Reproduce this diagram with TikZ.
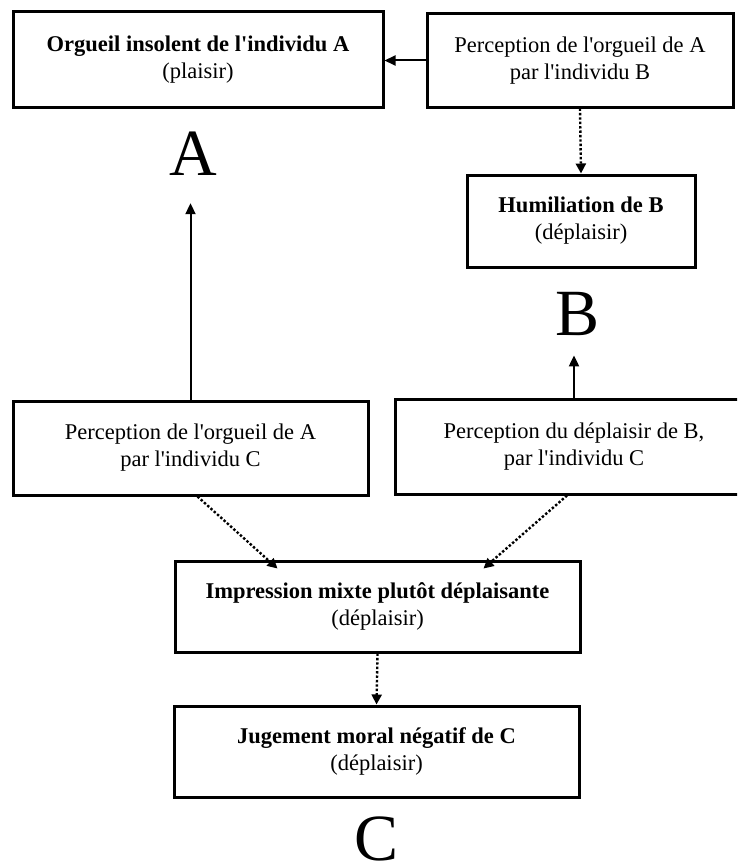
\documentclass[tikz,border=0pt]{standalone}
\usepackage{fontspec}
\setmainfont{Liberation Serif}[Ligatures=TeXOff]
\usetikzlibrary{arrows.meta}
\begin{document}
\begin{tikzpicture}[x=1pt,y=-1pt,
  box/.style={draw,line width=3pt,rectangle,inner sep=0pt,align=center,
    font=\fontsize{22.5}{27}\selectfont},
  bigletter/.style={inner sep=0pt,anchor=base,font=\fontsize{66}{66}\selectfont},
  solidarr/.style={line width=2pt,-{Triangle[length=11pt,width=10pt]}},
  dotarr/.style={line width=2.4pt,dotted,-{Triangle[length=10pt,width=10pt]}}]
\clip (0,0) rectangle (737,867);
% emotion boxes
\node[box,minimum width=370pt,minimum height=95pt] (orgueil) at (198,59.5)
  {\textbf{Orgueil insolent de l'individu A}\\(plaisir)};
\node[box,minimum width=306pt,minimum height=93pt] (percB) at (580,60.5)
  {Perception de l'orgueil de A\\par l'individu B};
\node[box,minimum width=228pt,minimum height=92pt] (humil) at (581,221)
  {\textbf{Humiliation de B}\\(déplaisir)};
\node[box,minimum width=355pt,minimum height=94pt] (percCA) at (190.5,448)
  {Perception de l'orgueil de A\\par l'individu C};
\node[box,minimum width=358pt,minimum height=95pt] (percCB) at (574,446.5)
  {Perception du déplaisir de B,\\par l'individu C};
\node[box,minimum width=405pt,minimum height=91pt] (mixte) at (377.5,606.5)
  {\textbf{Impression mixte plutôt déplaisante}\\(déplaisir)};
\node[box,minimum width=405pt,minimum height=91pt] (jugement) at (376.5,751.5)
  {\textbf{Jugement moral négatif de C}\\(déplaisir)};
% individual labels
\node[bigletter] (lettA) at (193,175) {A};
\node[bigletter] (lettB) at (578,335) {B};
\node[bigletter] (lettC) at (377,860) {C};
% connectors
\draw[solidarr] (percB.west) -- (percB.west -| orgueil.east);
\draw[dotarr] (percB.south) -- (humil.north);
\draw[solidarr,shorten >=28pt] (percCA.north) -- (percCA.north |- lettA.south);
\draw[solidarr,shorten >=20pt] (percCB.north) -- (percCB.north |- lettB.south);
\draw[dotarr] ([xshift=7pt]percCA.south) -- ([xshift=-100pt,yshift=-9pt]mixte.north);
\draw[dotarr] ([xshift=-7pt]percCB.south) -- ([xshift=106pt,yshift=-9pt]mixte.north);
\draw[dotarr] (mixte.south) -- (jugement.north);
\end{tikzpicture}
\end{document}
